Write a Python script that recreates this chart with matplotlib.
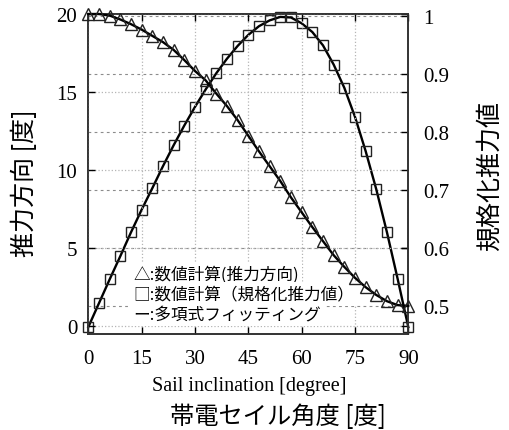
import numpy as np
import matplotlib
matplotlib.use("Agg")
import matplotlib.pyplot as plt

# sail inclination [deg], thrust direction [deg], normalized thrust
angle = list(range(0, 91, 3))
thrust_dir = [20.0, 20.0, 19.9, 19.65, 19.35, 19.0, 18.6, 18.2, 17.7, 17.05,
              16.35, 15.75, 14.9, 14.1, 13.2, 12.2, 11.2, 10.25, 9.3, 8.25,
              7.3, 6.35, 5.45, 4.55, 3.8, 3.1, 2.5, 2.0, 1.6, 1.35, 1.3]
thrust_norm = [0.464, 0.505, 0.546, 0.586, 0.627, 0.666, 0.703, 0.741, 0.777,
               0.811, 0.843, 0.873, 0.901, 0.926, 0.948, 0.967, 0.982, 0.992,
               0.998, 0.997, 0.987, 0.972, 0.949, 0.916, 0.876, 0.826, 0.767,
               0.701, 0.627, 0.547, 0.464]

xticks = [0, 15, 30, 45, 60, 75, 90]
left_ticks = [0, 5, 10, 15, 20]
right_ticks = [0.5, 0.6, 0.7, 0.8, 0.9, 1.0]
right_ticklabels = ["0.5", "0.6", "0.7", "0.8", "0.9", "1"]

legend_lines = ["△:数値計算(推力方向)", "□:数値計算（規格化推力値）", "ー:多項式フィッティング"]

jp = "Noto Sans CJK JP"
serif = "Liberation Serif"

fig = plt.figure(figsize=(5.1, 4.31), dpi=100)
ax = fig.add_axes([88.3 / 510, 1 - 335 / 431, 320 / 510, 320 / 431])
ax2 = ax.twinx()
# left axis (triangles + legend) goes on top
ax.set_zorder(ax2.get_zorder() + 1)
ax.patch.set_visible(False)

ax.set_xlim(0, 90)
ax.set_ylim(-0.5, 20)
ax2.set_ylim(0.452, 1.003)

ax.set_xticks(xticks)
ax.set_yticks(left_ticks)
ax2.set_yticks(right_ticks)
ax2.set_yticklabels(right_ticklabels)

for a in (ax, ax2):
    for lab in a.get_xticklabels() + a.get_yticklabels():
        lab.set_family(serif)
        lab.set_fontsize(15)
    for sp in a.spines.values():
        sp.set_linewidth(1.2)
        sp.set_color("#333333")

ax.tick_params(direction="in", top=True, right=True, labelright=False,
               length=5, width=1, pad=8)
ax.tick_params(axis="x", pad=11)
ax2.tick_params(direction="in", length=5, width=1, pad=11)

# grids: left/x dotted, right dashed
ax.grid(True, color="#b5b5b5", linestyle=":", linewidth=0.9)
ax2.grid(True, axis="y", color="#8c8c8c", linestyle=(0, (2.5, 3)), linewidth=0.8)

ax2.plot(angle, thrust_norm, color="black", lw=1.7, zorder=3, clip_on=False)
ax2.plot(angle, thrust_norm, ls="none", marker="s", ms=7.5, mfc="none",
         mec="#222222", mew=1.0, zorder=4, clip_on=False)
ax.plot(angle, thrust_dir, color="black", lw=1.7, zorder=3, clip_on=False)
ax.plot(angle, thrust_dir, ls="none", marker="^", ms=8, mfc="none",
        mec="#222222", mew=1.0, zorder=4, clip_on=False)

# legend as plain text with white backing
for i, txt in enumerate(legend_lines):
    ax.text(0.14, 0.1875 - 0.0625 * i, txt, transform=ax.transAxes,
            family=jp, fontsize=12, va="center", ha="left", zorder=2,
            bbox=dict(boxstyle="square,pad=0.2", fc="white", ec="none"))

fig.text(25 / 510, 1 - 183 / 431, "推力方向 [度]", family=jp, fontsize=18,
         rotation=90, ha="center", va="center")
fig.text(490 / 510, 1 - 176 / 431, "規格化推力値", family=jp, fontsize=18,
         rotation=90, ha="center", va="center")
fig.text(249 / 510, 1 - 387 / 431, "Sail inclination [degree]", family=serif,
         fontsize=14.5, ha="center", va="center")
fig.text(278 / 510, 1 - 417 / 431, "帯電セイル角度 [度]", family=jp,
         fontsize=17.5, ha="center", va="center")

fig.savefig("out.png", dpi=100)
